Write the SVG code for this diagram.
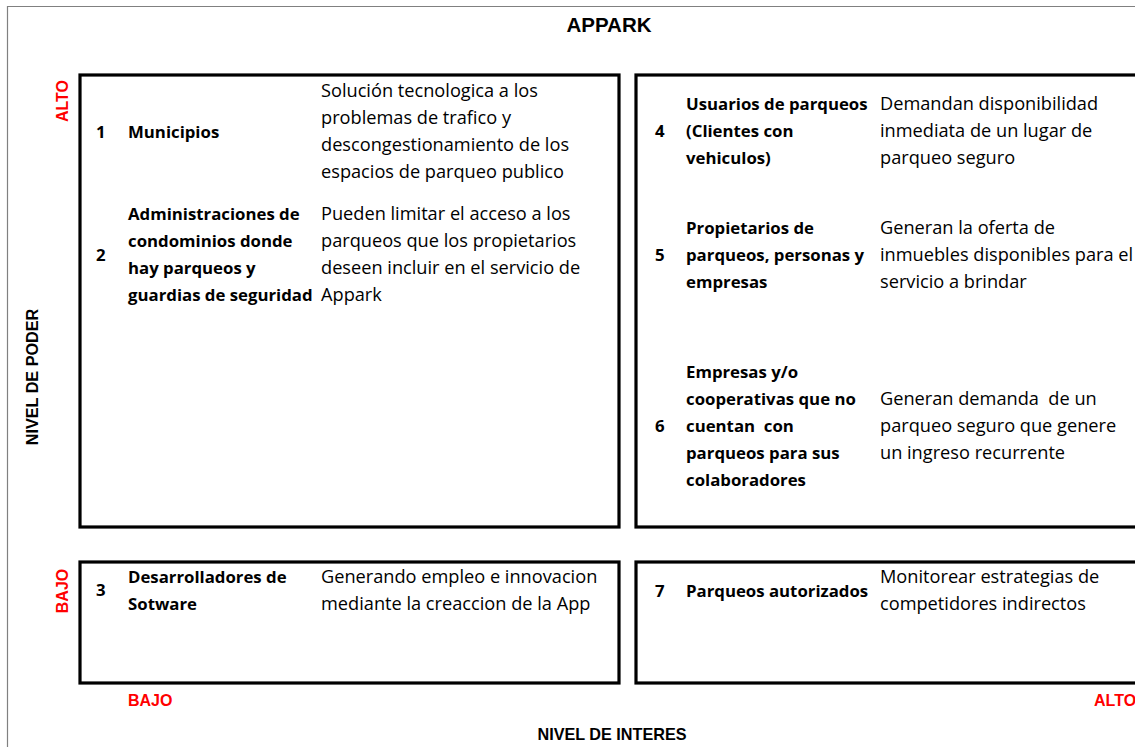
<svg xmlns="http://www.w3.org/2000/svg" width="1135" height="747" viewBox="0 0 1135 747">
<style>
text{font-family:"Open Sans","Liberation Sans",Arial,sans-serif;fill:#000}
.n{font-size:16.8px;font-weight:bold}
.b{font-size:16.8px;font-weight:bold}
.d{font-size:18.2px}
.red{font-family:"Liberation Sans",Arial,sans-serif;fill:#ff0000;font-weight:bold;font-size:16px}
.ax{font-family:"Liberation Sans",Arial,sans-serif;font-weight:bold;font-size:16.2px}
.box{fill:none;stroke:#000;stroke-width:3.2}
</style>
<rect x="0" y="0" width="1135" height="747" fill="#fff"/>
<path d="M7.5 747 V6.5 H1135" fill="none" stroke="#808080" stroke-width="1.2"/>
<text x="609" y="32" text-anchor="middle" style="font-family:'Liberation Sans',Arial,sans-serif;font-weight:bold;font-size:20.5px">APPARK</text>
<text class="red" transform="translate(68 101) rotate(-90)" text-anchor="middle">ALTO</text>
<text class="red" transform="translate(68 591) rotate(-90)" text-anchor="middle">BAJO</text>
<text class="ax" transform="translate(38 377) rotate(-90)" text-anchor="middle">NIVEL DE PODER</text>
<text class="red" x="128" y="706">BAJO</text>
<text class="red" x="1094" y="706">ALTO</text>
<text class="ax" x="612" y="740" text-anchor="middle">NIVEL DE INTERES</text>

<g id="q-tl">
<rect class="box" x="80" y="75" width="539" height="452"/>
</g>
<g id="q-tr">
<rect class="box" x="636" y="75" width="520" height="452"/>
</g>
<g id="q-bl">
<rect class="box" x="80" y="562" width="539" height="121"/>
</g>
<g id="q-br">
<rect class="box" x="636" y="562" width="520" height="121"/>
</g>

<g id="n1">
<text class="n" x="96" y="138">1</text>
<text class="b" x="128" y="138">Municipios</text>
<text class="d" x="321" y="97">Solución tecnologica a los</text>
<text class="d" x="321" y="124">problemas de trafico y</text>
<text class="d" x="321" y="151">descongestionamiento de los</text>
<text class="d" x="321" y="178">espacios de parqueo publico</text>
</g>
<g id="n2">
<text class="n" x="96" y="261">2</text>
<text class="b" x="128" y="220">Administraciones de</text>
<text class="b" x="128" y="247">condominios donde</text>
<text class="b" x="128" y="274">hay parqueos y</text>
<text class="b" x="128" y="301">guardias de seguridad</text>
<text class="d" x="321" y="220">Pueden limitar el acceso a los</text>
<text class="d" x="321" y="247">parqueos que los propietarios</text>
<text class="d" x="321" y="274">deseen incluir en el servicio de</text>
<text class="d" x="321" y="301">Appark</text>
</g>
<g id="n3">
<text class="n" x="96" y="596">3</text>
<text class="b" x="128" y="583">Desarrolladores de</text>
<text class="b" x="128" y="610">Sotware</text>
<text class="d" x="321" y="583">Generando empleo e innovacion</text>
<text class="d" x="321" y="610">mediante la creaccion de la App</text>
</g>
<g id="n4">
<text class="n" x="655" y="137">4</text>
<text class="b" x="686" y="110">Usuarios de parqueos</text>
<text class="b" x="686" y="137">(Clientes con</text>
<text class="b" x="686" y="164">vehiculos)</text>
<text class="d" x="880" y="110">Demandan disponibilidad</text>
<text class="d" x="880" y="137">inmediata de un lugar de</text>
<text class="d" x="880" y="164">parqueo seguro</text>
</g>
<g id="n5">
<text class="n" x="655" y="261">5</text>
<text class="b" x="686" y="234">Propietarios de</text>
<text class="b" x="686" y="261">parqueos, personas y</text>
<text class="b" x="686" y="288">empresas</text>
<text class="d" x="880" y="234">Generan la oferta de</text>
<text class="d" x="880" y="261">inmuebles disponibles para el</text>
<text class="d" x="880" y="288">servicio a brindar</text>
</g>
<g id="n6">
<text class="n" x="655" y="432">6</text>
<text class="b" x="686" y="378">Empresas y/o</text>
<text class="b" x="686" y="405">cooperativas que no</text>
<text class="b" x="686" y="432" xml:space="preserve">cuentan  con</text>
<text class="b" x="686" y="459">parqueos para sus</text>
<text class="b" x="686" y="486">colaboradores</text>
<text class="d" x="880" y="405" xml:space="preserve">Generan demanda  de un</text>
<text class="d" x="880" y="432">parqueo seguro que genere</text>
<text class="d" x="880" y="459">un ingreso recurrente</text>
</g>
<g id="n7">
<text class="n" x="655" y="597">7</text>
<text class="b" x="686" y="597">Parqueos autorizados</text>
<text class="d" x="880" y="583">Monitorear estrategias de</text>
<text class="d" x="880" y="610">competidores indirectos</text>
</g>
<g id="connectors"></g>
</svg>
